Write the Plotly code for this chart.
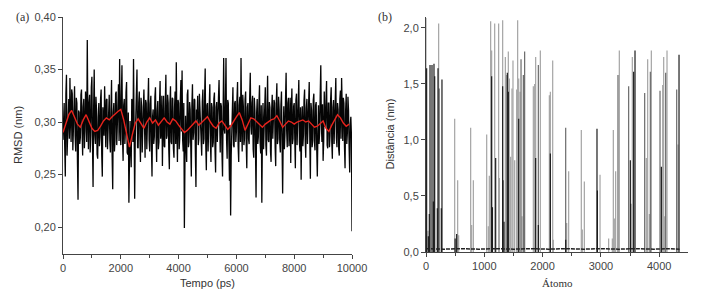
import plotly.graph_objects as go

# ---------------- (a) RMSD vs time ----------------
rmsd_step_ps = 40
# readings at t = 0, 40, 80, ... 10000 ps
rmsd_values = [
    0.283, 0.318, 0.248, 0.345, 0.290, 0.322, 0.342, 0.281, 0.327, 0.296,
    0.334, 0.272, 0.318, 0.226, 0.309, 0.285, 0.331, 0.268, 0.322, 0.291,
    0.315, 0.378, 0.274, 0.326, 0.288, 0.343, 0.238, 0.350, 0.279, 0.312,
    0.265, 0.318, 0.286, 0.331, 0.248, 0.303, 0.334, 0.276, 0.322, 0.289,
    0.326, 0.271, 0.340, 0.236, 0.318, 0.283, 0.329, 0.294, 0.336, 0.360,
    0.278, 0.354, 0.263, 0.322, 0.292, 0.338, 0.269, 0.223, 0.301, 0.257,
    0.316, 0.360, 0.227, 0.308, 0.350, 0.275, 0.329, 0.262, 0.315, 0.284,
    0.331, 0.266, 0.318, 0.291, 0.342, 0.272, 0.325, 0.248, 0.312, 0.286,
    0.333, 0.262, 0.320, 0.281, 0.339, 0.292, 0.258, 0.325, 0.276, 0.345,
    0.287, 0.318, 0.255, 0.334, 0.279, 0.322, 0.266, 0.329, 0.357, 0.262,
    0.318, 0.285, 0.340, 0.349, 0.272, 0.199, 0.306, 0.262, 0.331, 0.281,
    0.312, 0.248, 0.336, 0.290, 0.321, 0.238, 0.303, 0.278, 0.327, 0.296,
    0.268, 0.331, 0.284, 0.351, 0.254, 0.318, 0.289, 0.336, 0.262, 0.314,
    0.281, 0.328, 0.252, 0.319, 0.294, 0.340, 0.271, 0.315, 0.248, 0.361,
    0.289, 0.361, 0.265, 0.318, 0.244, 0.211, 0.302, 0.333, 0.276, 0.320,
    0.291, 0.338, 0.262, 0.324, 0.361, 0.272, 0.315, 0.284, 0.329, 0.256,
    0.318, 0.279, 0.347, 0.288, 0.325, 0.266, 0.311, 0.228, 0.322, 0.286,
    0.335, 0.270, 0.223, 0.318, 0.292, 0.333, 0.268, 0.344, 0.281, 0.314,
    0.262, 0.326, 0.296, 0.318, 0.258, 0.337, 0.284, 0.312, 0.271, 0.329,
    0.232, 0.315, 0.288, 0.347, 0.276, 0.323, 0.291, 0.261, 0.332, 0.284,
    0.318, 0.256, 0.327, 0.293, 0.340, 0.272, 0.245, 0.315, 0.288, 0.331,
    0.266, 0.322, 0.297, 0.338, 0.246, 0.311, 0.283, 0.327, 0.273, 0.319,
    0.248, 0.316, 0.290, 0.354, 0.281, 0.263, 0.329, 0.296, 0.339, 0.275,
    0.318, 0.287, 0.333, 0.265, 0.321, 0.294, 0.342, 0.276, 0.312, 0.268,
    0.330, 0.342, 0.282, 0.318, 0.256, 0.327, 0.290, 0.311, 0.252, 0.305,
    0.196,
]
# readings at t = 20, 60, 100, ... 9980 ps
rmsd_mid_values = [
    0.301, 0.276, 0.327, 0.268, 0.319, 0.284, 0.306, 0.331, 0.273, 0.315,
    0.287, 0.323, 0.262, 0.311, 0.279, 0.326, 0.292, 0.314, 0.275, 0.329,
    0.281, 0.304, 0.318, 0.271, 0.333, 0.279, 0.312, 0.288, 0.324, 0.269,
    0.305, 0.277, 0.322, 0.269, 0.314, 0.287, 0.296, 0.321, 0.274, 0.318,
    0.283, 0.312, 0.268, 0.309, 0.272, 0.327, 0.278, 0.318, 0.282, 0.298,
    0.325, 0.284, 0.316, 0.279, 0.328, 0.271, 0.309, 0.262, 0.276, 0.322,
    0.281, 0.298, 0.284, 0.327, 0.276, 0.318, 0.287, 0.323, 0.271, 0.313,
    0.279, 0.321, 0.274, 0.326, 0.283, 0.317, 0.276, 0.305, 0.279, 0.324,
    0.287, 0.311, 0.274, 0.318, 0.284, 0.325, 0.301, 0.277, 0.319, 0.284,
    0.326, 0.274, 0.318, 0.281, 0.323, 0.275, 0.314, 0.279, 0.296, 0.321,
    0.274, 0.322, 0.291, 0.283, 0.318, 0.262, 0.279, 0.326, 0.276, 0.319,
    0.278, 0.316, 0.283, 0.322, 0.271, 0.312, 0.325, 0.284, 0.313, 0.275,
    0.319, 0.279, 0.324, 0.278, 0.316, 0.272, 0.327, 0.281, 0.318, 0.276,
    0.322, 0.274, 0.314, 0.281, 0.323, 0.277, 0.318, 0.272, 0.309, 0.293,
    0.316, 0.283, 0.321, 0.279, 0.297, 0.268, 0.325, 0.278, 0.318, 0.281,
    0.322, 0.277, 0.316, 0.281, 0.298, 0.326, 0.278, 0.322, 0.279, 0.314,
    0.284, 0.324, 0.296, 0.318, 0.274, 0.323, 0.276, 0.308, 0.279, 0.317,
    0.281, 0.316, 0.285, 0.274, 0.323, 0.278, 0.314, 0.283, 0.319, 0.272,
    0.311, 0.284, 0.321, 0.276, 0.318, 0.279, 0.324, 0.281, 0.316, 0.278,
    0.286, 0.274, 0.322, 0.291, 0.318, 0.277, 0.323, 0.309, 0.279, 0.315,
    0.284, 0.321, 0.278, 0.318, 0.281, 0.314, 0.296, 0.277, 0.321, 0.283,
    0.313, 0.279, 0.324, 0.282, 0.318, 0.276, 0.321, 0.281, 0.316, 0.274,
    0.289, 0.279, 0.326, 0.298, 0.317, 0.281, 0.296, 0.322, 0.278, 0.318,
    0.276, 0.321, 0.281, 0.314, 0.279, 0.323, 0.285, 0.318, 0.274, 0.322,
    0.284, 0.316, 0.323, 0.276, 0.311, 0.279, 0.324, 0.276, 0.297, 0.288,
]

avg_step_ps = 100
avg_values = [
    0.290, 0.298, 0.307, 0.311, 0.305, 0.298, 0.295, 0.302, 0.307, 0.300,
    0.294, 0.291, 0.292, 0.296, 0.301, 0.304, 0.302, 0.305, 0.308, 0.310,
    0.312, 0.302, 0.289, 0.276, 0.288, 0.299, 0.303, 0.298, 0.294, 0.300,
    0.304, 0.299, 0.302, 0.297, 0.301, 0.304, 0.300, 0.298, 0.303, 0.301,
    0.297, 0.294, 0.290, 0.292, 0.295, 0.298, 0.301, 0.297, 0.300, 0.302,
    0.305, 0.300, 0.296, 0.294, 0.299, 0.301, 0.297, 0.293, 0.296, 0.301,
    0.305, 0.309, 0.302, 0.292, 0.298, 0.304, 0.303, 0.300, 0.298, 0.295,
    0.298, 0.300, 0.302, 0.303, 0.306, 0.301, 0.295, 0.298, 0.301, 0.300,
    0.298, 0.300, 0.301, 0.302, 0.300, 0.301, 0.298, 0.295, 0.296, 0.299,
    0.301, 0.294, 0.291, 0.297, 0.302, 0.307, 0.304, 0.299, 0.296, 0.298,
]
avg_time = [i * avg_step_ps for i in range(len(avg_values))]

a_xticks = [0, 2000, 4000, 6000, 8000, 10000]
a_xticktext = ["0", "2000", "4000", "6000", "8000", "10000"]
a_xminor = [1000, 3000, 5000, 7000, 9000]
a_yticks = [0.20, 0.25, 0.30, 0.35, 0.40]
a_yticktext = ["0,20", "0,25", "0,30", "0,35", "0,40"]

# ---------------- (b) distance per atom ----------------
light_atoms = [0, 217, 34, 492, 543, 560, 766, 783, 812, 1041, 1069, 1086, 1109, 1126,
               1178, 1246, 1258, 1315, 1361, 1378, 1412, 1429, 1452, 1475, 1492,
               1521, 1555, 1572, 1590, 1612, 1647, 1841, 1864, 1881, 1961, 2116,
               2133, 2173, 2184, 2413, 2447, 2664, 2681, 2716, 2985, 3133, 3196,
               3213, 3230, 3253, 3316, 3539, 3779, 3802, 3831, 3865, 4060, 4077,
               4094, 4134, 4322]
light_heights = [2.09, 2.04, 0.19, 1.19, 0.64, 0.15, 1.11, 0.24, 0.64, 1.05, 0.23, 0.68, 2.06, 1.80,
                 2.04, 2.04, 0.66, 2.07, 1.74, 1.58, 1.79, 1.55, 0.85, 1.46, 1.71,
                 0.82, 1.45, 2.07, 1.55, 1.43, 0.32, 1.48, 1.50, 1.74, 1.80, 1.40,
                 1.43, 1.71, 0.11, 0.26, 0.72, 1.09, 0.20, 0.63, 0.69, 0.12, 0.12,
                 1.09, 0.30, 0.72, 1.80, 1.74, 0.84, 1.72, 0.34, 1.80, 1.49, 1.74,
                 0.32, 1.80, 0.96]

mid_atoms = [226, 1630, 1670, 1692, 1927, 2396, 3293, 3476, 3751, 3848, 4014, 4111, 4300]
mid_heights = [1.46, 1.72, 1.58, 1.79, 1.67, 1.11, 1.58, 1.48, 1.42, 1.61, 1.44, 1.60, 1.45]

dark_atoms = [11, 40, 57, 69, 103, 126, 137, 149, 194, 206, 263, 274, 500, 526, 1126, 1140,
              1195, 1315, 1320, 1338, 1395, 1412, 1590, 1881, 1927, 2133, 2396,
              2933, 2940, 3505, 3511, 3562, 3585, 4037, 4340]
dark_heights = [1.64, 0.14, 0.34, 1.67, 1.67, 0.45, 1.68, 1.57, 0.39, 1.64, 0.39, 1.54, 0.12, 0.16, 1.57, 0.40,
                0.84, 1.48, 0.64, 0.27, 1.60, 1.43, 1.19, 0.84, 0.24, 0.88, 0.11,
                1.10, 0.55, 0.82, 0.43, 1.61, 1.80, 0.76, 1.76]

base_atoms = [0, 300, 600, 900, 1200, 1500, 1800, 2100, 2400, 2700, 3000, 3300, 3600, 3900, 4200, 4350]
base_heights = [0.03, 0.025, 0.03, 0.025, 0.03, 0.025, 0.03, 0.025, 0.03, 0.025, 0.03, 0.025, 0.03, 0.025, 0.03, 0.025]

b_xticks = [0, 1000, 2000, 3000, 4000]
b_xticktext = ["0", "1000", "2000", "3000", "4000"]
b_xminor = [500, 1500, 2500, 3500]
b_yticks = [0.0, 0.5, 1.0, 1.5, 2.0]
b_yticktext = ["0,0", "0,5", "1,0", "1,5", "2,0"]


def spikes(atoms, heights):
    xs, ys = [], []
    for a, h in zip(atoms, heights):
        xs += [a, a, None]
        ys += [0, h, None]
    return xs, ys


# interleave the two sets of RMSD readings in time order
pts = [(i * rmsd_step_ps, v) for i, v in enumerate(rmsd_values)]
pts += [(i * rmsd_step_ps + rmsd_step_ps // 2, v) for i, v in enumerate(rmsd_mid_values)]
pts.sort()
rmsd_t = [p[0] for p in pts]
rmsd_v = [p[1] for p in pts]

fig = go.Figure()

fig.add_trace(go.Scatter(x=rmsd_t, y=rmsd_v, mode="lines",
                         line=dict(color="#050505", width=1.3), xaxis="x", yaxis="y",
                         showlegend=False, hoverinfo="skip"))
fig.add_trace(go.Scatter(x=avg_time, y=avg_values, mode="lines",
                         line=dict(color="#e8231c", width=1.4), xaxis="x", yaxis="y",
                         showlegend=False, hoverinfo="skip"))

for atoms, heights, col in [(light_atoms, light_heights, "#a4a4a4"),
                            (mid_atoms, mid_heights, "#6a6a6a"),
                            (dark_atoms, dark_heights, "#1c1c1c")]:
    xs, ys = spikes(atoms, heights)
    fig.add_trace(go.Scatter(x=xs, y=ys, mode="lines", line=dict(color=col, width=1.2),
                             xaxis="x2", yaxis="y2", showlegend=False, hoverinfo="skip"))

fig.add_trace(go.Scatter(x=base_atoms, y=base_heights, mode="lines",
                         line=dict(color="#222222", width=1.5, dash="4px,1px"),
                         xaxis="x2", yaxis="y2", showlegend=False, hoverinfo="skip"))

W, H = 703, 295
tickfont = dict(family="Arial, Liberation Sans, sans-serif", size=11, color="#444444")
axcommon = dict(showline=True, linecolor="#444444", linewidth=1, showgrid=False,
                zeroline=False, ticks="outside", ticklen=4, tickcolor="#444444",
                tickfont=tickfont, automargin=False)

fig.update_layout(
    width=W, height=H,
    margin=dict(l=0, r=0, t=0, b=0, autoexpand=False),
    paper_bgcolor="white", plot_bgcolor="white",
    xaxis=dict(domain=[63 / W, 352 / W], range=[0, 10000], anchor="y",
               tickvals=a_xticks, ticktext=a_xticktext,
               minor=dict(tickvals=a_xminor, ticklen=3, ticks="outside", tickcolor="#444444"),
               **axcommon),
    yaxis=dict(domain=[1 - 254 / H, 1 - 17 / H], range=[0.1743, 0.40], anchor="x",
               tickvals=a_yticks, ticktext=a_yticktext, **axcommon),
    xaxis2=dict(domain=[426 / W, 688 / W], range=[0, 4494], anchor="y2",
                tickvals=b_xticks, ticktext=b_xticktext,
                minor=dict(tickvals=b_xminor, ticklen=3, ticks="outside", tickcolor="#444444"),
                **axcommon),
    yaxis2=dict(domain=[1 - 252 / H, 1 - 17 / H], range=[0, 2.098], anchor="x2",
                tickvals=b_yticks, ticktext=b_yticktext, **axcommon),
)

sans = "Arial, Liberation Sans, sans-serif"
serif = "Times New Roman, Liberation Serif, serif"
ann = [
    dict(text="(a)", x=22 / W, y=1 - 17 / H, font=dict(family=serif, size=12, color="#333333")),
    dict(text="(b)", x=385 / W, y=1 - 17 / H, font=dict(family=serif, size=12, color="#333333")),
    dict(text="RMSD (nm)", x=17.5 / W, y=1 - 135.5 / H, textangle=-90,
         font=dict(family=sans, size=11, color="#333333")),
    dict(text="Tempo (ps)", x=207.5 / W, y=1 - 283 / H,
         font=dict(family=sans, size=11, color="#333333")),
    dict(text="Distância (nm)", x=389 / W, y=1 - 134.5 / H, textangle=-90,
         font=dict(family=sans, size=11, color="#333333")),
    dict(text="Átomo", x=557 / W, y=1 - 283 / H,
         font=dict(family=serif, size=11, color="#333333")),
]
for a in ann:
    fig.add_annotation(xref="paper", yref="paper", showarrow=False,
                       xanchor="center", yanchor="middle", **a)

fig.write_html("out.html", config={"displayModeBar": False},
               post_script="document.body.style.margin='0';document.body.style.overflow='hidden';")
